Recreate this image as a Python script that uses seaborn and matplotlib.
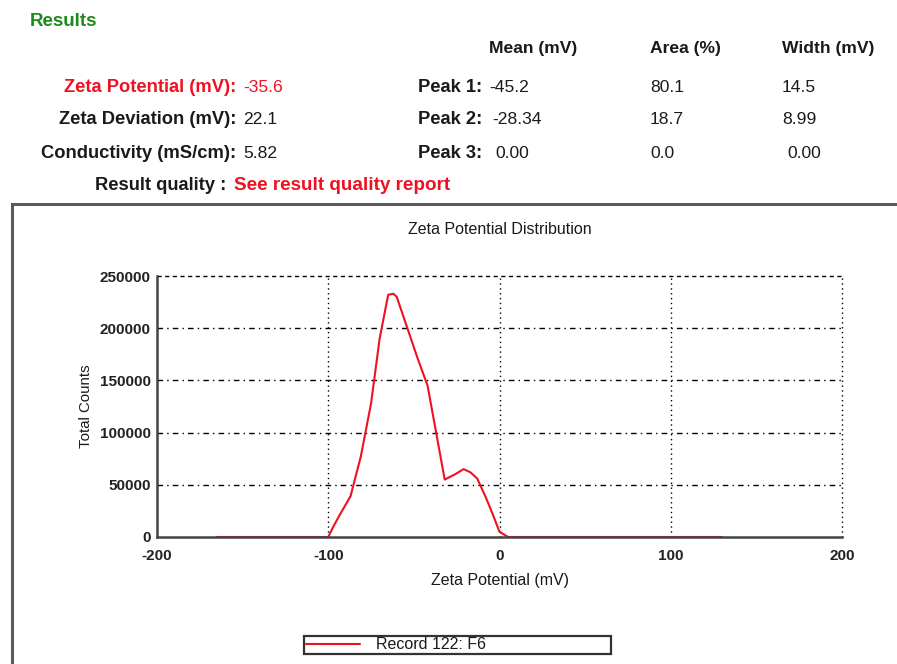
import numpy as np
import pandas as pd
import matplotlib
matplotlib.use("Agg")
import matplotlib.pyplot as plt
from matplotlib.patches import Rectangle
from matplotlib.ticker import MultipleLocator
import seaborn as sns

# ---- measurement summary ----
summary_labels = ["Zeta Potential (mV):", "Zeta Deviation (mV):", "Conductivity (mS/cm):"]
summary_values = ["-35.6", "22.1", "5.82"]
peak_labels = ["Peak 1:", "Peak 2:", "Peak 3:"]
peak_means = ["-45.2", "-28.34", "0.00"]
peak_areas = ["80.1", "18.7", "0.0"]
peak_widths = ["14.5", "8.99", "0.00"]
column_headers = ["Mean (mV)", "Area (%)", "Width (mV)"]

# ---- zeta potential distribution (Record 122: F6) ----
zeta_mv = [-165, -100, -97, -93, -87, -81, -75, -70, -65, -62, -60, -54, -48,
           -42, -37, -32, -26, -21, -17, -13, -8, -4, 0, 5, 130]
total_counts = [0, 0, 10000, 22000, 39000, 77000, 128000, 190000, 232000,
                233000, 230000, 201000, 172000, 145000, 100000, 55000, 60000,
                65000, 62000, 56000, 38000, 22000, 5000, 0, 0]
record_name = "Record 122: F6"

sns.set_style("white")
plt.rcParams["font.family"] = ["Liberation Sans", "DejaVu Sans"]
plt.rcParams["axes.unicode_minus"] = False

W, H = 897, 664
fig = plt.figure(figsize=(W / 100, H / 100), dpi=100)


def fx(px):
    return px / W


def fy(py):
    return 1 - py / H


RED = "#ee1122"
DARK = "#1a1a1a"
HFS = 12.6   # header values / column titles
LFS = 13.2   # header row labels

# header block
fig.text(fx(30), fy(21), "Results", color="#1e8a1e", fontsize=13.5,
         fontweight="bold", va="center", ha="left")

col_x = [489, 650, 782]
for cx, head in zip(col_x, column_headers):
    fig.text(fx(cx), fy(48), head, fontsize=HFS, fontweight="bold",
             color=DARK, va="center", ha="left")

row_y = [87, 119, 153]
for i, (lab, val) in enumerate(zip(summary_labels, summary_values)):
    c = RED if i == 0 else DARK
    fig.text(fx(236), fy(row_y[i]), lab, fontsize=LFS, fontweight="bold",
             color=c, va="center", ha="right")
    fig.text(fx(243), fy(row_y[i]), val, fontsize=HFS, color=c,
             va="center", ha="left")

mean_x = [489, 492, 495]
width_x = [782, 782, 787]
for i in range(3):
    fig.text(fx(482), fy(row_y[i]), peak_labels[i], fontsize=LFS,
             fontweight="bold", color=DARK, va="center", ha="right")
    fig.text(fx(mean_x[i]), fy(row_y[i]), peak_means[i], fontsize=HFS,
             color=DARK, va="center", ha="left")
    fig.text(fx(650), fy(row_y[i]), peak_areas[i], fontsize=HFS,
             color=DARK, va="center", ha="left")
    fig.text(fx(width_x[i]), fy(row_y[i]), peak_widths[i], fontsize=HFS,
             color=DARK, va="center", ha="left")

fig.text(fx(231), fy(185), "Result quality : ", fontsize=LFS,
         fontweight="bold", color=DARK, va="center", ha="right")
fig.text(fx(234), fy(185), "See result quality report", fontsize=13.6,
         fontweight="bold", color=RED, va="center", ha="left")

# framed chart panel
fig.patches.append(Rectangle((fx(12), fy(H + 20)), 1.2, fy(204) - fy(H + 20),
                             transform=fig.transFigure, fill=False,
                             edgecolor="#5a5a5a", linewidth=2.2))

ax = fig.add_axes([fx(157), fy(537), fx(842) - fx(157), fy(276) - fy(537)])
df = pd.DataFrame({"Zeta Potential (mV)": zeta_mv, "Total Counts": total_counts,
                   "Record": record_name})
sns.lineplot(data=df, x="Zeta Potential (mV)", y="Total Counts", hue="Record",
             palette=[RED], linewidth=1.5, ax=ax, sort=False)

ax.set_xlim(-200, 200)
ax.set_ylim(0, 250000)
ax.xaxis.set_major_locator(MultipleLocator(100))
ax.xaxis.set_minor_locator(MultipleLocator(50))
ax.yaxis.set_major_locator(MultipleLocator(50000))
ax.yaxis.set_minor_locator(MultipleLocator(25000))
ax.tick_params(axis="both", which="major", direction="inout", length=7,
               width=1.2, color="#333333", labelsize=11)
ax.tick_params(axis="x", which="major", pad=5)
ax.tick_params(axis="y", which="major", pad=1)
ax.tick_params(axis="both", which="minor", direction="inout", length=5,
               width=1.0, color="#333333")
for lbl in ax.get_xticklabels() + ax.get_yticklabels():
    lbl.set_fontweight("bold")
    lbl.set_color("#222222")

for side in ["top", "right"]:
    ax.spines[side].set_visible(False)
for side in ["left", "bottom"]:
    ax.spines[side].set_color("#444444")
    ax.spines[side].set_linewidth(1.8)

# grid: dash-dot horizontals, dotted verticals
for yv in [50000, 100000, 150000, 200000]:
    ax.axhline(yv, color="black", linewidth=1.0, linestyle=(0, (4, 3, 1, 3)),
               zorder=0)
ax.axhline(250000, color="black", linewidth=1.0, linestyle=(0, (3, 2.5)),
           zorder=0, clip_on=False)
for xv in [-100, 0, 100, 200]:
    ax.axvline(xv, color="black", linewidth=1.0, linestyle=(0, (1, 2.5)),
               zorder=0, clip_on=False)

ax.set_title("Zeta Potential Distribution", fontsize=11.5, color=DARK,
             pad=0, y=(fy(229) - fy(537)) / (fy(276) - fy(537)), va="center")
ax.set_xlabel("Zeta Potential (mV)", fontsize=11.5, color=DARK, labelpad=7)
ax.set_ylabel("Total Counts", fontsize=10.8, color=DARK, labelpad=5)

leg = ax.legend(loc="lower left",
                bbox_to_anchor=(fx(304), fy(654), fx(611) - fx(304), fy(632) - fy(654)),
                bbox_transform=fig.transFigure, mode="expand", frameon=True,
                fancybox=False, edgecolor="black", fontsize=11.5,
                handlelength=3.4, handletextpad=1.0, borderpad=0.1,
                borderaxespad=0)
leg.get_frame().set_linewidth(1.6)
for t in leg.get_texts():
    t.set_color(DARK)

fig.savefig("out.png", dpi=100)
